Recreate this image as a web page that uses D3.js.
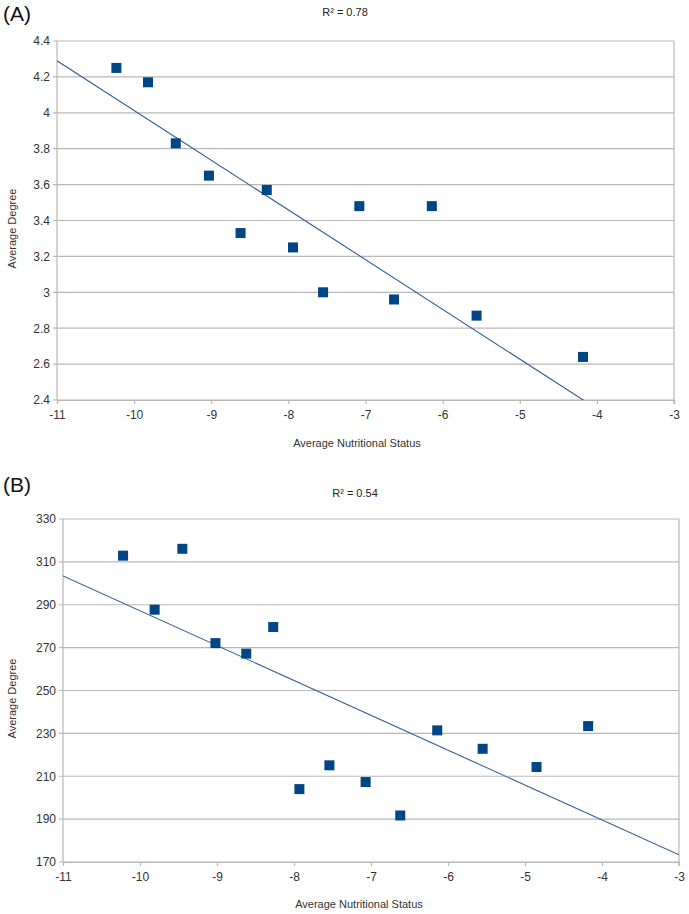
<!DOCTYPE html>
<html>
<head>
<meta charset="utf-8">
<script src="https://cdn.jsdelivr.net/npm/d3@7"></script>
<style>
  html, body { margin: 0; padding: 0; background: #fff; }
  svg { display: block; font-family: "Liberation Sans", Arial, sans-serif; }
</style>
</head>
<body>
<svg id="chart" width="689" height="914"></svg>
<script>
// ---- Data ----
const xTicks = [-11, -10, -9, -8, -7, -6, -5, -4, -3];

// Panel A
const aX = [-10.23, -9.82, -9.46, -9.03, -8.62, -8.28, -7.94, -7.55, -7.08, -6.63, -6.14, -5.56, -4.18];
const aY = [4.25, 4.17, 3.83, 3.65, 3.33, 3.57, 3.25, 3.00, 3.48, 2.96, 3.48, 2.87, 2.64];
const aYTicks = [2.4, 2.6, 2.8, 3, 3.2, 3.4, 3.6, 3.8, 4, 4.2, 4.4];
const aTrend = { slope: -0.277, intercept: 1.243 };
const aR2 = "R² = 0.78";

// Panel B
const bX = [-10.22, -9.81, -9.45, -9.02, -8.62, -8.27, -7.93, -7.54, -7.07, -6.62, -6.14, -5.55, -4.85, -4.18];
const bY = [312.9, 287.7, 316.1, 272.1, 267.2, 279.6, 204.0, 215.1, 207.3, 191.7, 231.4, 222.8, 214.3, 233.4];
const bYTicks = [170, 190, 210, 230, 250, 270, 290, 310, 330];
const bTrend = { slope: -16.26, intercept: 124.6 };
const bR2 = "R² = 0.54";

const xTitle = "Average Nutritional Status";
const yTitle = "Average Degree";

// ---- Drawing ----
const svg = d3.select("#chart");
const markColor = "#004586";
const gridColor = "#b8b8b8";
const textColor = "#333333";

function drawPanel(p) {
  const x = d3.scaleLinear().domain([-11, -3]).range([p.left, p.right]);
  const y = d3.scaleLinear().domain(p.yDomain).range([p.bottom, p.top]);
  const g = svg.append("g");

  // panel label
  g.append("text").attr("x", 3).attr("y", p.labelY)
    .attr("font-size", 21).attr("fill", "#111").text(p.label);

  // R² title
  g.append("text").attr("x", p.r2X).attr("y", p.r2Y)
    .attr("text-anchor", "middle").attr("font-size", 11).attr("fill", "#222").text(p.r2);

  // gridlines
  g.append("g").selectAll("line").data(p.yTicks).join("line")
    .attr("x1", p.left - 4).attr("x2", p.right)
    .attr("y1", d => y(d)).attr("y2", d => y(d))
    .attr("stroke", gridColor).attr("stroke-width", 1.2);

  // y axis (labels only)
  const yAxis = d3.axisLeft(y).tickValues(p.yTicks).tickSize(0).tickPadding(7)
    .tickFormat(d => String(+d.toFixed(2)).replace("\u2212", "-"));
  const ya = g.append("g").attr("transform", `translate(${p.left},0)`).call(yAxis);
  ya.select(".domain").remove();
  ya.selectAll("text").attr("font-size", 12).attr("fill", textColor)
    .attr("font-family", "Liberation Sans, Arial, sans-serif");

  // x axis
  const xAxis = d3.axisBottom(x).tickValues(xTicks).tickSize(4).tickPadding(6)
    .tickFormat(d => String(d));
  const xa = g.append("g").attr("transform", `translate(0,${p.bottom})`).call(xAxis);
  xa.select(".domain").attr("stroke", gridColor).attr("stroke-width", 1.2);
  xa.selectAll(".tick line").attr("stroke", gridColor).attr("stroke-width", 1.2);
  xa.selectAll("text").attr("font-size", 12).attr("fill", textColor)
    .attr("font-family", "Liberation Sans, Arial, sans-serif");

  // left and right borders
  g.append("line").attr("x1", p.left).attr("x2", p.left).attr("y1", p.top).attr("y2", p.bottom)
    .attr("stroke", gridColor).attr("stroke-width", 1.2);
  g.append("line").attr("x1", p.right).attr("x2", p.right).attr("y1", p.top).attr("y2", p.bottom + 4)
    .attr("stroke", gridColor).attr("stroke-width", 1.2);

  // axis titles
  g.append("text").attr("x", p.xTitleX).attr("y", p.xTitleY)
    .attr("text-anchor", "middle").attr("font-size", 11).attr("fill", textColor).text(xTitle);
  g.append("text")
    .attr("transform", `translate(16,${(p.top + p.bottom) / 2 + 8}) rotate(-90)`)
    .attr("text-anchor", "middle").attr("font-size", 11).attr("fill", textColor).text(yTitle);

  // trend line clipped to plot area
  const clipId = "clip" + p.label.replace(/\W/g, "");
  g.append("clipPath").attr("id", clipId).append("rect")
    .attr("x", p.left).attr("y", p.top).attr("width", p.right - p.left).attr("height", p.bottom - p.top);
  const tx = [-11, -3];
  const line = d3.line().x(d => x(d)).y(d => y(p.trend.intercept + p.trend.slope * d));
  g.append("path").datum(tx).attr("d", line)
    .attr("clip-path", `url(#${clipId})`)
    .attr("fill", "none").attr("stroke", "#2f5f96").attr("stroke-width", 1.1);

  // points
  const pts = p.xs.map((v, i) => [v, p.ys[i]]);
  const s = 10;
  g.append("g").selectAll("rect").data(pts).join("rect")
    .attr("x", d => x(d[0]) - s / 2).attr("y", d => y(d[1]) - s / 2)
    .attr("width", s).attr("height", s).attr("fill", markColor);
}

drawPanel({
  label: "(A)", labelY: 21, r2: aR2, r2X: 345, r2Y: 16,
  left: 57, right: 674, top: 41, bottom: 400,
  yDomain: [2.4, 4.4], yTicks: aYTicks, xs: aX, ys: aY, trend: aTrend,
  xTitleX: 357, xTitleY: 447
});

drawPanel({
  label: "(B)", labelY: 492, r2: bR2, r2X: 355, r2Y: 497,
  left: 63, right: 679, top: 519, bottom: 862,
  yDomain: [170, 330], yTicks: bYTicks, xs: bX, ys: bY, trend: bTrend,
  xTitleX: 359, xTitleY: 908
});
</script>
</body>
</html>
